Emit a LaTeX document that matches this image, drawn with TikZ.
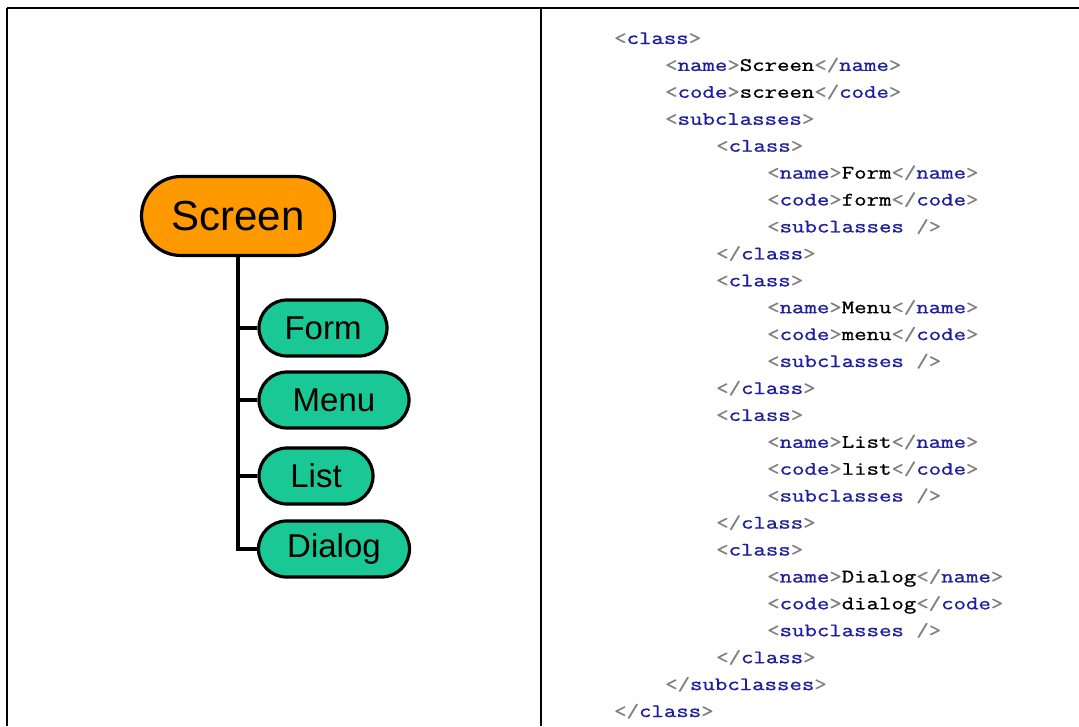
\documentclass[tikz,border=0pt]{standalone}
\usepackage{fontspec}
\usetikzlibrary{shapes.misc}
\setmainfont{Liberation Sans}
\newfontfamily\codefont[FakeStretch=1.27,FakeBold=1]{Latin Modern Mono}
\definecolor{tagblue}{RGB}{30,30,160}
\definecolor{brgrey}{RGB}{128,128,128}
\definecolor{pillorange}{RGB}{255,153,0}
\definecolor{pillgreen}{RGB}{26,200,150}
\newcommand\ob{\textcolor{brgrey}{<}}
\newcommand\cb{\textcolor{brgrey}{>}}
\newcommand\slsh{\textcolor{brgrey}{/}}
\newcommand\tagc[1]{\textcolor{tagblue}{#1}}
\begin{document}
\begin{tikzpicture}[x=1pt,y=-1pt,
  pill/.style={rounded rectangle, draw=black, line width=3.2pt, inner sep=0pt, font=\fontsize{33}{36}\selectfont},
  child/.style={pill, fill=pillgreen, minimum height=56pt},
  codeline/.style={anchor=base west, inner sep=0pt, font=\codefont\fontsize{19}{21}\selectfont},
  border/.style={line width=2.8pt, black},
  conn/.style={line width=3.2pt, black}]
\useasboundingbox (0,0) rectangle (1079,726);
\fill[white] (0,0) rectangle (1079,726);
% table borders
\draw[border] (7,8) -- (1079,8);
\draw[border] (7,8) -- (7,726);
\draw[line width=2pt] (541,8) -- (541,726);
% tree
\node[pill, fill=pillorange, minimum width=193pt, minimum height=79pt, font=\fontsize{42}{46}\selectfont] (screen) at (238,216) {Screen};
\node[child, minimum width=128pt] (form) at (323,328) {Form};
\node[child, minimum width=150pt] (menu) at (334,400) {Menu};
\node[child, minimum width=114pt] (list) at (316,476) {List};
\node[child, minimum width=151pt] (dialog) at (334,549) {Dialog};
\draw[conn] (screen.south) |- (dialog.west);
\draw[conn] (screen.south |- form.west) -- (form.west);
\draw[conn] (screen.south |- menu.west) -- (menu.west);
\draw[conn] (screen.south |- list.west) -- (list.west);
% code
\def\LA{614}\def\LB{665}\def\LC{716}\def\LD{767}
\node[codeline] (c0) at (\LA,44) {\ob\tagc{class}\cb};
\node[codeline] (c1) at (\LB,70.9) {\ob\tagc{name}\cb Screen\ob\slsh\tagc{name}\cb};
\node[codeline] (c2) at (\LB,97.8) {\ob\tagc{code}\cb screen\ob\slsh\tagc{code}\cb};
\node[codeline] (c3) at (\LB,124.8) {\ob\tagc{subclasses}\cb};
\node[codeline] (c4) at (\LC,151.7) {\ob\tagc{class}\cb};
\node[codeline] (c5) at (\LD,178.6) {\ob\tagc{name}\cb Form\ob\slsh\tagc{name}\cb};
\node[codeline] (c6) at (\LD,205.5) {\ob\tagc{code}\cb form\ob\slsh\tagc{code}\cb};
\node[codeline] (c7) at (\LD,232.4) {\ob\tagc{subclasses}\ \slsh\cb};
\node[codeline] (c8) at (\LC,259.4) {\ob\slsh\tagc{class}\cb};
\node[codeline] (c9) at (\LC,286.3) {\ob\tagc{class}\cb};
\node[codeline] (c10) at (\LD,313.2) {\ob\tagc{name}\cb Menu\ob\slsh\tagc{name}\cb};
\node[codeline] (c11) at (\LD,340.1) {\ob\tagc{code}\cb menu\ob\slsh\tagc{code}\cb};
\node[codeline] (c12) at (\LD,367.0) {\ob\tagc{subclasses}\ \slsh\cb};
\node[codeline] (c13) at (\LC,394.0) {\ob\slsh\tagc{class}\cb};
\node[codeline] (c14) at (\LC,420.9) {\ob\tagc{class}\cb};
\node[codeline] (c15) at (\LD,447.8) {\ob\tagc{name}\cb List\ob\slsh\tagc{name}\cb};
\node[codeline] (c16) at (\LD,474.7) {\ob\tagc{code}\cb list\ob\slsh\tagc{code}\cb};
\node[codeline] (c17) at (\LD,501.6) {\ob\tagc{subclasses}\ \slsh\cb};
\node[codeline] (c18) at (\LC,528.6) {\ob\slsh\tagc{class}\cb};
\node[codeline] (c19) at (\LC,555.5) {\ob\tagc{class}\cb};
\node[codeline] (c20) at (\LD,582.4) {\ob\tagc{name}\cb Dialog\ob\slsh\tagc{name}\cb};
\node[codeline] (c21) at (\LD,609.3) {\ob\tagc{code}\cb dialog\ob\slsh\tagc{code}\cb};
\node[codeline] (c22) at (\LD,636.2) {\ob\tagc{subclasses}\ \slsh\cb};
\node[codeline] (c23) at (\LC,663.2) {\ob\slsh\tagc{class}\cb};
\node[codeline] (c24) at (\LB,690.1) {\ob\slsh\tagc{subclasses}\cb};
\node[codeline] (c25) at (\LA,717.0) {\ob\slsh\tagc{class}\cb};
\end{tikzpicture}
\end{document}
